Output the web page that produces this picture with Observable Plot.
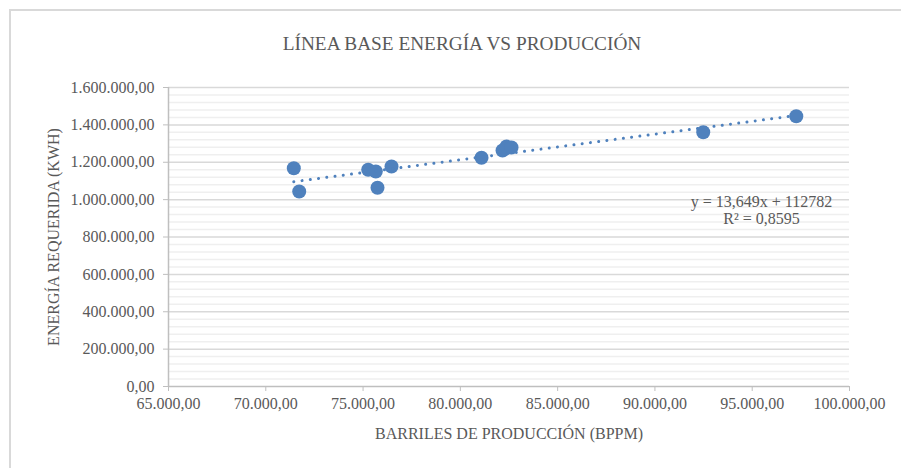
<!DOCTYPE html>
<html>
<head>
<meta charset="utf-8">
<script src="https://cdn.jsdelivr.net/npm/d3@7"></script>
<script src="https://cdn.jsdelivr.net/npm/@observablehq/plot@0.6"></script>
<style>
  html, body { margin: 0; padding: 0; background: #fff; overflow: hidden; }
  #frame { position: absolute; left: 9px; top: 9px; width: 1000px; height: 1000px; border: 2px solid #d9d9d9; box-sizing: border-box; }
  #chart { position: absolute; left: 0; top: 0; }
</style>
</head>
<body>
<div id="frame"></div>
<div id="chart"></div>
<script>
const title = "LÍNEA BASE ENERGÍA VS PRODUCCIÓN";
const xTitle = "BARRILES DE PRODUCCIÓN (BPPM)";
const yTitle = "ENERGÍA REQUERIDA (KWH)";
const equationText = ["y = 13,649x + 112782", "R² = 0,8595"];

const produccion = [71440, 71718, 75264, 75655, 75742, 76462, 81088, 82168, 82373, 82630, 92483, 97264];
const energia = [1168000, 1043500, 1159600, 1150500, 1063200, 1177200, 1223800, 1262800, 1284200, 1278900, 1360800, 1446400];

const xTicks = [65000, 70000, 75000, 80000, 85000, 90000, 95000, 100000];
const yTicks = [0, 200000, 400000, 600000, 800000, 1000000, 1200000, 1400000, 1600000];
const yMinor = d3.range(0, 1600001, 40000).filter(v => v % 200000 !== 0);

const data = produccion.map((p, i) => ({x: p, y: energia[i]}));

const loc = d3.formatLocale({decimal: ",", thousands: ".", grouping: [3], currency: ["", ""]});
const fmt = loc.format(",.2f");

const font = "Liberation Serif";
const grey = "#595959";
const blue = "#4f81bd";

const chart = Plot.plot({
  width: 901,
  height: 468,
  marginLeft: 168,
  marginRight: 52,
  marginTop: 87,
  marginBottom: 82,
  style: `font-family: '${font}', serif; font-size: 16px; color: ${grey}; background: transparent;`,
  x: {domain: [65000, 100000], ticks: xTicks, tickFormat: fmt, tickSize: 5, tickPadding: 6, label: null},
  y: {domain: [0, 1600000], ticks: yTicks, tickFormat: fmt, tickSize: 5, tickPadding: 9, label: null},
  marks: [
    Plot.ruleY(yMinor, {stroke: "#efefef", strokeWidth: 1.5}),
    Plot.ruleY(yTicks.filter(v => v > 0), {stroke: "#d9d9d9", strokeWidth: 1.5}),
    Plot.ruleY([0], {stroke: "#bfbfbf", strokeWidth: 1.5}),
    Plot.ruleX([65000], {stroke: "#bfbfbf", strokeWidth: 1.5}),
    Plot.axisX({ticks: xTicks, tickFormat: fmt, tickSize: 5, tickPadding: 6, stroke: "#bfbfbf", fill: grey, label: null, fontSize: 16, fontFamily: font}),
    Plot.axisY({ticks: yTicks, tickFormat: fmt, tickSize: 5, tickPadding: 9, stroke: "#bfbfbf", fill: grey, label: null, fontSize: 16, fontFamily: font}),
    Plot.dot(data, {x: "x", y: "y", r: 7, fill: blue, stroke: null}),
    Plot.linearRegressionY(data, {x: "x", y: "y", ci: 0, stroke: blue, strokeWidth: 3, strokeLinecap: "round", strokeDasharray: "0.01 8.3"}),
    Plot.text([title], {frameAnchor: "top", dx: -47, dy: -44, fontSize: 19.3, fill: grey, lineAnchor: "middle", fontFamily: font}),
    Plot.text([xTitle], {frameAnchor: "bottom", dy: 47, fontSize: 16, fill: grey, lineAnchor: "middle", fontFamily: font}),
    Plot.text([yTitle], {frameAnchor: "left", dx: -115, rotate: -90, textAnchor: "middle", lineAnchor: "middle", fontSize: 16, fill: grey, fontFamily: font}),
    Plot.text([equationText.join("\n")], {frameAnchor: "top-right", dx: -(849 - 761), dy: 209.5 - 87, textAnchor: "middle", lineAnchor: "middle", lineHeight: 1.07, fontSize: 16, fill: grey, fontFamily: font})
  ]
});
chart.setAttribute("font-family", font);
chart.querySelectorAll("text").forEach(el => {
  el.style.fontFamily = `'${font}', serif`;
});
document.getElementById("chart").appendChild(chart);
</script>
</body>
</html>
